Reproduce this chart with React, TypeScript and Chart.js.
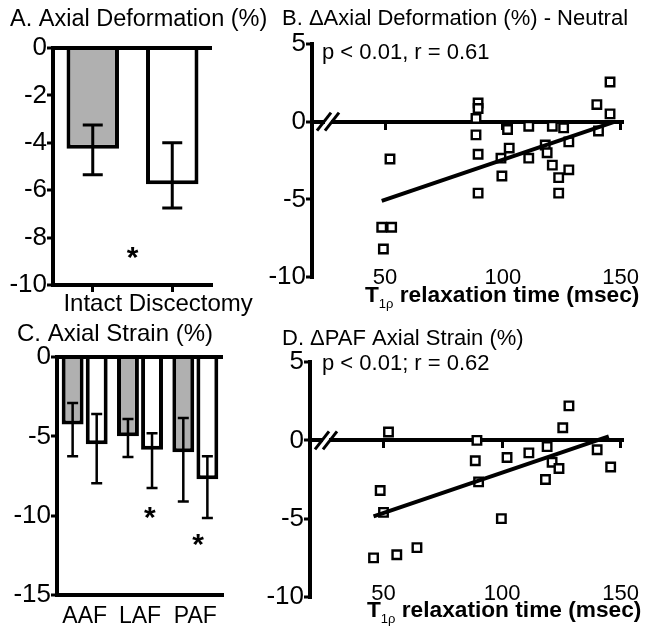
import React, { useEffect, useRef } from 'react';
import { Chart, registerables } from 'chart.js';

Chart.register(...registerables);

const FONT = "'Liberation Sans', Arial, sans-serif";
const GRAY = '#b0b0b0';
Chart.defaults.font.family = FONT;
Chart.defaults.color = '#000';

// ---------- Panel A: Axial deformation (%) ----------
const aCategories = ['Intact', 'Discectomy'];
const aMeans = [-4.25, -5.75];
const aErrUpper = [-3.25, -4.0];
const aErrLower = [-5.35, -6.75];
const aStarPos = [0.5];
const aStarVal = [-8.5];

// ---------- Panel B: ΔAxial deformation vs T1rho ----------
const bT1rho = [49.3, 48.6, 52.8, 52.1, 88.6, 89.5, 89.5, 88.6, 89.5, 89.5, 99.2, 99.6, 102, 102.7, 111, 111, 118, 118.8, 121, 121, 123.7, 123.7, 125.8, 128, 128, 139.9, 140.6, 145.5, 145.5];
const bDelta = [-8.2, -6.8, -6.8, -2.4, 0.2, 1.2, 0.85, -0.85, -2.1, -4.6, -2.35, -3.5, -0.5, -1.7, -0.3, -2.35, -1.5, -2.0, -0.3, -2.8, -3.6, -4.6, -0.4, -1.3, -3.1, 1.1, -0.6, 2.55, 0.5];
const bFitX = [48.6, 147.6];
const bFitY = [-5.1, 0.0];

// ---------- Panel C: Axial strain (%) ----------
const cCategories = ['AAF', 'LAF', 'PAF'];
const cIntact = [-4.25, -5.0, -6.0];
const cIntactUpper = [-2.9, -3.9, -3.85];
const cIntactLower = [-6.25, -6.3, -9.1];
const cDisc = [-5.5, -5.85, -7.7];
const cDiscUpper = [-3.6, -4.8, -6.25];
const cDiscLower = [-7.95, -8.25, -10.15];
const cStarPos = [1.18, 2.05];
const cStarVal = [-9.6, -11.3];

// ---------- Panel D: ΔPAF axial strain vs T1rho ----------
const dT1rho = [52.1, 48.6, 50, 45.8, 55.6, 64.1, 89.4, 88.7, 90.1, 99.7, 102.1, 111.3, 119, 118.3, 121.1, 124, 125.6, 128.2, 140.1, 145.8];
const dDelta = [0.53, -3.2, -4.6, -7.5, -7.3, -6.85, 0, -1.3, -2.65, -5.0, -1.1, -0.8, -0.4, -2.5, -1.4, -1.8, 0.8, 2.2, -0.6, -1.7];
const dFitX = [45.8, 145];
const dFitY = [-4.85, 0.25];

const xScatterRange = { min: 19, max: 151, step: 50 };

// ---------- helpers ----------
function text(ctx: CanvasRenderingContext2D, s: string, x: number, y: number, size: number, align: CanvasTextAlign = 'left', weight = 'normal') {
  ctx.save();
  ctx.font = `${weight} ${size}px ${FONT}`;
  ctx.fillStyle = '#000';
  ctx.textAlign = align;
  ctx.textBaseline = 'middle';
  ctx.fillText(s, x, y);
  ctx.restore();
}

function star(ctx: CanvasRenderingContext2D, x: number, y: number, size: number) {
  ctx.save();
  ctx.font = `bold ${size}px ${FONT}`;
  ctx.fillStyle = '#000';
  ctx.textAlign = 'center';
  ctx.textBaseline = 'alphabetic';
  ctx.fillText('*', x, y + size * 0.58);
  ctx.restore();
}

function t1rhoTitle(ctx: CanvasRenderingContext2D, x: number, baseline: number, size: number) {
  ctx.save();
  ctx.fillStyle = '#000';
  ctx.textAlign = 'left';
  ctx.textBaseline = 'alphabetic';
  ctx.font = `bold ${size}px ${FONT}`;
  ctx.fillText('T', x, baseline);
  let cx = x + ctx.measureText('T').width;
  ctx.font = `normal ${Math.round(size * 0.58)}px ${FONT}`;
  ctx.fillText('1ρ', cx, baseline + size * 0.25);
  cx += ctx.measureText('1ρ').width;
  ctx.font = `bold ${size}px ${FONT}`;
  ctx.fillText(' relaxation time (msec)', cx, baseline);
  ctx.restore();
}

function axisBreak(chart: any) {
  const { ctx } = chart;
  const xs = chart.scales.x;
  const ys = chart.scales.y;
  const py = ys.getPixelForValue(0);
  const px = xs.left + 16;
  ctx.save();
  ctx.fillStyle = '#fff';
  ctx.fillRect(px - 3, py - 3, 6, 6);
  ctx.strokeStyle = '#000';
  ctx.lineWidth = 3;
  for (const dx of [-4, 4]) {
    ctx.beginPath();
    ctx.moveTo(px + dx - 7, py + 9);
    ctx.lineTo(px + dx + 7, py - 9);
    ctx.stroke();
  }
  ctx.restore();
}

const errorBarPlugin = {
  id: 'errorBars',
  afterDatasetsDraw(chart: any, _args: any, opts: any) {
    const { ctx } = chart;
    const ys = chart.scales.y;
    chart.data.datasets.forEach((ds: any, i: number) => {
      if (!ds.errUpper) return;
      const meta = chart.getDatasetMeta(i);
      meta.data.forEach((el: any, j: number) => {
        const x = el.x;
        const y1 = ys.getPixelForValue(ds.errUpper[j]);
        const y2 = ys.getPixelForValue(ds.errLower[j]);
        const cap = opts.cap;
        ctx.save();
        ctx.strokeStyle = '#000';
        ctx.lineWidth = opts.width;
        ctx.beginPath();
        ctx.moveTo(x, y1); ctx.lineTo(x, y2);
        ctx.moveTo(x - cap, y1); ctx.lineTo(x + cap, y1);
        ctx.moveTo(x - cap, y2); ctx.lineTo(x + cap, y2);
        ctx.stroke();
        ctx.restore();
      });
    });
  },
};

function yAxis(min: number, max: number, step: number, width: number, zeroLine: boolean) {
  return {
    min, max,
    z: zeroLine ? 1 : 0,
    ticks: { stepSize: step, color: '#000', font: { size: 26, family: FONT }, padding: 0 },
    grid: {
      drawOnChartArea: zeroLine,
      color: (c: any) => (c.tick && c.tick.value === 0 ? '#000' : 'rgba(0,0,0,0)'),
      lineWidth: 4,
      drawTicks: true,
      tickLength: 6,
      tickColor: '#000',
      tickWidth: 3,
    },
    border: { display: true, color: '#000', width: 4 },
    afterFit: (s: any) => { s.width = width; },
  };
}

function scatterConfig(xs: number[], ys: number[], fx: number[], fy: number[], pad: any, labelPad: number, yW: number, decor: (chart: any) => void) {
  return {
    type: 'scatter',
    data: {
      datasets: [
        {
          data: fx.map((x, i) => ({ x, y: fy[i] })),
          showLine: true,
          borderColor: '#000',
          borderWidth: 4,
          pointRadius: 0,
          xAxisID: 'x',
          yAxisID: 'y',
        },
        {
          data: xs.map((x, i) => ({ x, y: ys[i] })),
          pointStyle: 'rect',
          pointRadius: 6,
          pointBackgroundColor: '#fff',
          pointBorderColor: '#000',
          pointBorderWidth: 2.4,
          xAxisID: 'x',
          yAxisID: 'y',
        },
      ],
    },
    options: {
      animation: false,
      responsive: false,
      maintainAspectRatio: false,
      layout: { padding: pad },
      plugins: { legend: { display: false }, tooltip: { enabled: false } },
      scales: {
        x: {
          type: 'linear',
          position: { y: 0 },
          min: xScatterRange.min,
          max: xScatterRange.max,
          ticks: { display: false, stepSize: xScatterRange.step, includeBounds: false },
          grid: { drawOnChartArea: false, drawTicks: true, tickLength: 6, tickColor: '#000', tickWidth: 3 },
          border: { display: true, color: '#000', width: 4 },
          afterFit: (s: any) => { s.height = 0; },
        },
        xb: {
          type: 'linear',
          axis: 'x',
          position: { y: -10 },
          min: xScatterRange.min,
          max: xScatterRange.max,
          ticks: { stepSize: xScatterRange.step, includeBounds: false, color: '#000', font: { size: 22, family: FONT }, padding: labelPad, maxRotation: 0 },
          grid: { display: false },
          border: { display: false },
          afterFit: (s: any) => { s.height = 0; },
        },
        y: yAxis(-10, 5, 5, yW, false),
      },
    },
    plugins: [{ id: 'decor', afterDraw: (chart: any) => { axisBreak(chart); decor(chart); } }],
  };
}

function configA() {
  return {
    type: 'bar',
    data: {
      labels: aCategories,
      datasets: [
        {
          data: aMeans,
          backgroundColor: [GRAY, '#fff'],
          borderColor: '#000',
          borderWidth: 4,
          barPercentage: 0.66,
          categoryPercentage: 1,
          errUpper: aErrUpper,
          errLower: aErrLower,
        },
      ],
    },
    options: {
      animation: false,
      responsive: false,
      maintainAspectRatio: false,
      layout: { padding: { left: 0, top: 48, right: 60, bottom: 0 } },
      plugins: { legend: { display: false }, tooltip: { enabled: false }, errorBars: { cap: 10, width: 3 } },
      scales: {
        x: {
          offset: true,
          ticks: { display: false },
          grid: { offset: false, drawOnChartArea: false, drawTicks: true, tickLength: 7, tickColor: '#000', tickWidth: 3 },
          border: { display: true, color: '#000', width: 4 },
          afterFit: (s: any) => { s.height = 35; },
        },
        y: yAxis(-10, 0, 2, 53, true),
      },
    },
    plugins: [
      errorBarPlugin,
      {
        id: 'decorA',
        afterDraw: (chart: any) => {
          const { ctx } = chart;
          const xs = chart.scales.x;
          const ys = chart.scales.y;
          text(ctx, 'A. Axial Deformation (%)', 10, 20, 23.5);
          ctx.save();
          ctx.font = `24px ${FONT}`;
          const w0 = ctx.measureText(aCategories[0]).width;
          const sp = ctx.measureText(' ').width;
          ctx.restore();
          const ly = chart.chartArea.bottom + 19;
          const x0 = xs.getPixelForTick(0) - w0 / 2;
          text(ctx, aCategories[0], x0, ly, 24);
          text(ctx, aCategories[1], x0 + w0 + sp, ly, 24);
          aStarPos.forEach((p, i) => star(ctx, xs.getPixelForValue(p), ys.getPixelForValue(aStarVal[i]), 30));
        },
      },
    ],
  };
}

function configC() {
  const barStyle = { borderColor: '#000', borderWidth: 4, barPercentage: 0.91, categoryPercentage: 0.87 };
  return {
    type: 'bar',
    data: {
      labels: cCategories,
      datasets: [
        { data: cIntact, backgroundColor: GRAY, ...barStyle, errUpper: cIntactUpper, errLower: cIntactLower },
        { data: cDisc, backgroundColor: '#fff', ...barStyle, errUpper: cDiscUpper, errLower: cDiscLower },
      ],
    },
    options: {
      animation: false,
      responsive: false,
      maintainAspectRatio: false,
      layout: { padding: { left: 0, top: 47, right: 37, bottom: 0 } },
      plugins: { legend: { display: false }, tooltip: { enabled: false }, errorBars: { cap: 5.5, width: 2.5 } },
      scales: {
        x: {
          offset: true,
          ticks: { color: '#000', font: { size: 23, family: FONT }, padding: 0, autoSkip: false, maxRotation: 0 },
          grid: { display: false },
          border: { display: true, color: '#000', width: 4 },
          afterFit: (s: any) => { s.height = 47; },
        },
        y: yAxis(-15, 0, 5, 57, true),
      },
    },
    plugins: [
      errorBarPlugin,
      {
        id: 'decorC',
        afterDraw: (chart: any) => {
          const { ctx } = chart;
          const xs = chart.scales.x;
          const ys = chart.scales.y;
          text(ctx, 'C. Axial Strain (%)', 17, 24, 24);
          cStarPos.forEach((p, i) => star(ctx, xs.getPixelForValue(p), ys.getPixelForValue(cStarVal[i]), 30));
        },
      },
    ],
  };
}

function configB() {
  return scatterConfig(bT1rho, bDelta, bFitX, bFitY, { left: 0, top: 44, right: 29, bottom: 43 }, -20, 52, (chart: any) => {
    const { ctx } = chart;
    text(ctx, 'B. ΔAxial Deformation (%) - Neutral', 22, 19, 22);
    text(ctx, 'p < 0.01, r = 0.61', 62, 53, 22);
    t1rhoTitle(ctx, 105, 302, 22.7);
  });
}

function configD() {
  return scatterConfig(dT1rho, dDelta, dFitX, dFitY, { left: 0, top: 52, right: 29, bottom: 45 }, -24, 50, (chart: any) => {
    const { ctx } = chart;
    text(ctx, 'D. ΔPAF Axial Strain (%)', 22, 29, 22);
    text(ctx, 'p < 0.01; r = 0.62', 62, 54, 22);
    t1rhoTitle(ctx, 107, 307, 22.7);
  });
}

function Panel({ left, top, width, height, make }: { left: number; top: number; width: number; height: number; make: () => any }) {
  const ref = useRef<HTMLCanvasElement>(null);
  useEffect(() => {
    const chart = new Chart(ref.current as HTMLCanvasElement, make());
    return () => chart.destroy();
  }, []);
  return (
    <canvas
      ref={ref}
      width={width}
      height={height}
      style={{ position: 'absolute', left, top, width, height }}
    />
  );
}

export default function App() {
  return (
    <div style={{ position: 'absolute', left: 0, top: 0, width: 652, height: 642, background: '#fff', overflow: 'hidden' }}>
      <Panel left={260} top={0} width={392} height={320} make={configB} />
      <Panel left={260} top={310} width={392} height={332} make={configD} />
      <Panel left={0} top={310} width={260} height={332} make={configC} />
      <Panel left={0} top={0} width={272} height={320} make={configA} />
    </div>
  );
}
